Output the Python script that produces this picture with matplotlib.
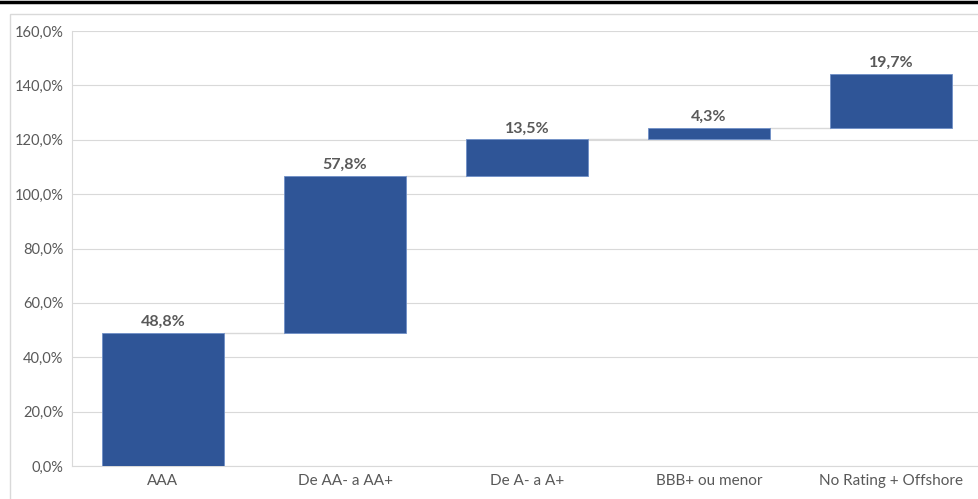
import numpy as np
import matplotlib.pyplot as plt
from matplotlib.ticker import FuncFormatter
from matplotlib.lines import Line2D
from matplotlib.patches import Rectangle

categories = ['AAA', 'De AA- a AA+', 'De A- a A+', 'BBB+ ou menor', 'No Rating + Offshore']
values = [48.8, 57.8, 13.5, 4.3, 19.7]
labels = ['48,8%', '57,8%', '13,5%', '4,3%', '19,7%']

BAR_COLOR = '#2F5597'
TEXT_COLOR = '#595959'
GRID_COLOR = '#D9D9D9'

plt.rcParams['font.family'] = ['Lato', 'DejaVu Sans']

ends = np.cumsum(values)
starts = ends - np.array(values)
x = np.arange(len(categories))
width = 0.665

fig = plt.figure(figsize=(9.79, 4.99), dpi=100)
ax = fig.add_axes([72 / 979, 33 / 499, 910 / 979, 435 / 499])

ax.bar(x, values, bottom=starts, width=width, color=BAR_COLOR,
       edgecolor='#6F8FC7', linewidth=0.6, zorder=3)

# connectors between steps
for i in range(len(values) - 1):
    ax.plot([x[i] + width / 2, x[i + 1] - width / 2], [ends[i], ends[i]],
            color=GRID_COLOR, linewidth=1, zorder=2)

for xi, top, lab in zip(x, ends, labels):
    ax.annotate(lab, (xi, top), xytext=(0, 3), textcoords='offset points',
                ha='center', va='bottom', fontsize=11.5, fontweight='bold',
                color=TEXT_COLOR)

ax.set_xlim(-0.5, len(categories) - 0.5)
ax.set_ylim(0, 160)
ax.set_yticks(np.arange(0, 161, 20))
ax.yaxis.set_major_formatter(FuncFormatter(lambda v, p: f'{v:.1f}%'.replace('.', ',')))
ax.set_xticks(x)
ax.set_xticklabels(categories)
ax.tick_params(axis='both', length=0, labelsize=10.5, colors=TEXT_COLOR)
ax.tick_params(axis='x', pad=6, labelsize=11)
ax.tick_params(axis='y', pad=6)
ax.grid(axis='y', color=GRID_COLOR, linewidth=0.8, zorder=0)
for side in ['top', 'right']:
    ax.spines[side].set_visible(False)
ax.spines['left'].set_color(GRID_COLOR)
ax.spines['bottom'].set_color(GRID_COLOR)

# outer chart frame and black rule at the top
fig.patches.append(Rectangle((10 / 979, -0.1), 1.1, (499 - 14) / 499 + 0.1,
                             transform=fig.transFigure, fill=False,
                             edgecolor=GRID_COLOR, linewidth=1))
fig.lines.append(Line2D([0, 1], [1 - 1.5 / 499, 1 - 1.5 / 499],
                        transform=fig.transFigure, color='black', linewidth=2.5))

fig.savefig('out.png', dpi=100)
